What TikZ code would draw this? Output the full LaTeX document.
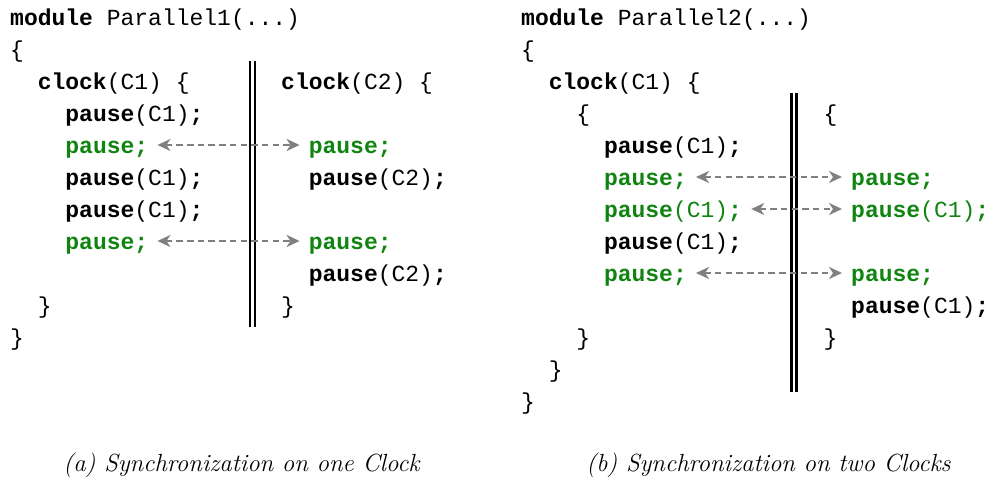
\documentclass[tikz,border=0pt]{standalone}
\usepackage{fontspec}
\setmonofont{Liberation Mono}
\usetikzlibrary{arrows.meta}
\definecolor{syncgreen}{RGB}{16,132,16}
\definecolor{arrgray}{RGB}{128,128,128}
\newcommand{\kw}[1]{\textbf{#1}}
\begin{document}
\begin{tikzpicture}[x=1pt,y=-1pt,
  code/.style={anchor=base west, inner sep=0pt, text height=16pt, text depth=0pt,
    font=\fontsize{23}{32}\selectfont\ttfamily},
  gcode/.style={code, text=syncgreen},
  syncarrow/.style={arrgray, line width=2.8pt, dash pattern=on 6.5pt off 4.2pt,
    {Stealth[length=13pt,width=12pt,inset=4pt]}-{Stealth[length=13pt,width=12pt,inset=4pt]},
    shorten <=9pt, shorten >=9pt},
  parbar/.style={draw=black, double=white, line width=2.3pt, double distance=2.8pt},
  caption/.style={anchor=base, inner sep=0pt, font=\fontsize{24.8}{28}\selectfont\itshape}]
\useasboundingbox (0,0) rectangle (994,491);

% ---------- (a) ----------
\node[code] (a1) at (10,25) {\kw{module} Parallel1(...)};
\node[code] (a2) at (10,57) {\{};
\node[code] (a3) at (37.6,89) {\kw{clock}(C1) \{};
\node[code] (a4) at (65.2,121) {\kw{pause}(C1)\kw{;}};
\node[gcode] (a5) at (65.2,153) {\kw{pause;}};
\node[code] (a6) at (65.2,185) {\kw{pause}(C1)\kw{;}};
\node[code] (a7) at (65.2,217) {\kw{pause}(C1)\kw{;}};
\node[gcode] (a8) at (65.2,249) {\kw{pause;}};
\node[code] (a9) at (37.6,313) {\}};
\node[code] (a10) at (10,345) {\}};

\node[code] (b3) at (281,89) {\kw{clock}(C2) \{};
\node[gcode] (b5) at (308.6,153) {\kw{pause;}};
\node[code] (b6) at (308.6,185) {\kw{pause}(C2)\kw{;}};
\node[gcode] (b8) at (308.6,249) {\kw{pause;}};
\node[code] (b9) at (308.6,281) {\kw{pause}(C2)\kw{;}};
\node[code] (b10) at (281,313) {\}};

\coordinate (sa1) at (252.5,61);
\coordinate (sa2) at (252.5,327);
\draw[parbar] (sa1) -- (sa2);

\draw[syncarrow] (a5.east) -- (b5.west);
\draw[syncarrow] (a8.east) -- (b8.west);

% ---------- (b) ----------
\node[code] (c1) at (521,25) {\kw{module} Parallel2(...)};
\node[code] (c2) at (521,57) {\{};
\node[code] (c3) at (548.6,89) {\kw{clock}(C1) \{};
\node[code] (c4) at (576.2,121) {\{};
\node[code] (c5) at (603.8,153) {\kw{pause}(C1)\kw{;}};
\node[gcode] (c6) at (603.8,185) {\kw{pause;}};
\node[gcode] (c7) at (603.8,217) {\kw{pause}(C1)\kw{;}};
\node[code] (c8) at (603.8,249) {\kw{pause}(C1)\kw{;}};
\node[gcode] (c9) at (603.8,281) {\kw{pause;}};
\node[code] (c10) at (576.2,345) {\}};
\node[code] (c11) at (548.6,377) {\}};
\node[code] (c12) at (521,409) {\}};

\node[code] (d4) at (823.5,121) {\{};
\node[gcode] (d6) at (851,185) {\kw{pause;}};
\node[gcode] (d7) at (851,217) {\kw{pause}(C1)\kw{;}};
\node[gcode] (d9) at (851,281) {\kw{pause;}};
\node[code] (d10) at (851,313) {\kw{pause}(C1)\kw{;}};
\node[code] (d11) at (823.5,345) {\}};

\coordinate (sb1) at (794,93);
\coordinate (sb2) at (794,392);
\draw[parbar] (sb1) -- (sb2);

\draw[syncarrow] (c6.east) -- (d6.west);
\draw[syncarrow] (c7.east) -- (d7.west);
\draw[syncarrow] (c9.east) -- (d9.west);

% ---------- captions ----------
\node[caption] (capa) at (241.5,471) {(a) Synchronization on one Clock};
\node[caption] (capb) at (768.5,471) {(b) Synchronization on two Clocks};
\end{tikzpicture}
\end{document}
